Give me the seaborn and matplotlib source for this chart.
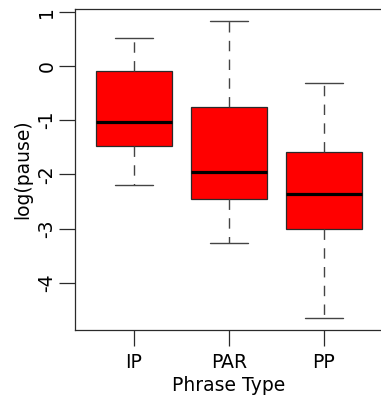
import matplotlib
matplotlib.use("Agg")
import matplotlib.pyplot as plt
import numpy as np
import pandas as pd
import seaborn as sns

# Five-number summaries of log(pause) per phrase type
phrase_types = ["IP", "PAR", "PP"]
lower_whisker = [-2.20, -3.26, -4.65]
q1 = [-1.48, -2.45, -3.01]
median = [-1.04, -1.95, -2.36]
q3 = [-0.09, -0.75, -1.58]
upper_whisker = [0.52, 0.83, -0.31]
y_ticks = [-4, -3, -2, -1, 0, 1]

sns.set_style("ticks")
plt.rcParams["font.family"] = ["DejaVu Sans"]
plt.rcParams["axes.unicode_minus"] = False
plt.rcParams["text.color"] = "black"
plt.rcParams["axes.labelcolor"] = "black"
plt.rcParams["xtick.labelcolor"] = "black"
plt.rcParams["ytick.labelcolor"] = "black"

rows = []
for i, name in enumerate(phrase_types):
    for v in (lower_whisker[i], q1[i], median[i], q3[i], upper_whisker[i]):
        rows.append({"Phrase Type": name, "log(pause)": v})
df = pd.DataFrame(rows)

fig = plt.figure(figsize=(3.81, 4.01), dpi=100)
ax = fig.add_axes([0.197, 0.177, 0.808, 0.8005])

line_col = "#2a2a2a"
sns.boxplot(
    data=df, x="Phrase Type", y="log(pause)", order=phrase_types,
    color="#FF0000", saturation=1, width=0.8, whis=(0, 100),
    linecolor=line_col, linewidth=0.9, ax=ax,
    boxprops=dict(edgecolor=line_col, linewidth=0.9),
    whiskerprops=dict(color="#444444", linewidth=1.0, linestyle=(0, (7.5, 6))),
    capprops=dict(color="#444444", linewidth=1.0),
    medianprops=dict(color="black", linewidth=2.3),
)

lo, hi = min(lower_whisker), max(upper_whisker)
pad = 0.04 * (hi - lo)
ax.set_ylim(lo - pad, hi + pad)
ax.set_xlim(-0.62, len(phrase_types) - 1 + 0.62)
ax.set_yticks(y_ticks)
ax.set_yticklabels([str(t) for t in y_ticks])

fs = 13.5
ax.tick_params(axis="both", direction="out", length=11.5, width=0.9,
               color=line_col, labelsize=fs, labelcolor="black")
ax.tick_params(axis="y", pad=2, labelrotation=90)
ax.tick_params(axis="x", pad=5)
for lab in ax.get_yticklabels():
    lab.set_verticalalignment("center")
ax.set_xlabel("Phrase Type", fontsize=fs, labelpad=3, color="black")
ax.set_ylabel("log(pause)", fontsize=fs, labelpad=4, color="black")
for s in ax.spines.values():
    s.set_linewidth(0.9)
    s.set_color(line_col)
ax.spines["right"].set_visible(False)

fig.savefig("out.png", dpi=100)
